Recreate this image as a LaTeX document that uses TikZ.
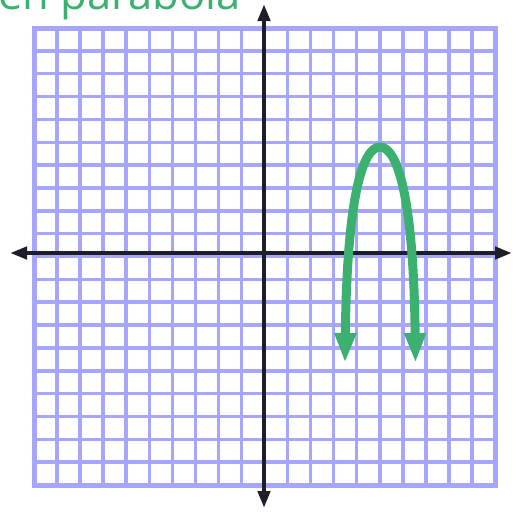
\documentclass[tikz,border=0pt]{standalone}
\usepackage{fontspec}
\newfontfamily\titlefont{Open Sans}
\usepackage{xcolor}
\usepackage{tikz}
\usetikzlibrary{arrows.meta}

\definecolor{gridblue}{RGB}{166,166,255}
\definecolor{axisdark}{RGB}{30,30,40}
\definecolor{curvegreen}{RGB}{60,176,110}

\begin{document}
\begin{tikzpicture}[x=1pt, y=-1pt,
    gridline/.style={gridblue, line width=3.5pt},
    axisline/.style={axisdark, line width=4.5pt, {Triangle[length=17pt,width=12pt]}-{Triangle[length=17pt,width=12pt]}},
    parabola/.style={curvegreen, line width=9pt, {Triangle[length=30pt,width=20pt]}-{Triangle[length=30pt,width=20pt]}}]

    \useasboundingbox (0,0) rectangle (516,512);
    \clip (0,0) rectangle (516,512);

    % Title
    \node[anchor=base east, inner sep=0pt, curvegreen, font=\titlefont\fontsize{43.5}{50}\selectfont] (title) at (241,9) {en parabola};

    % Grid
    \foreach \i in {0,...,20} {
        \draw[gridline] ({34+\i*23.05},28) -- ({34+\i*23.05},485);
        \draw[gridline] (34,{28+\i*22.85}) -- (495,{28+\i*22.85});
    }
    \draw[gridline, line width=5pt] (34,28) rectangle (495,485);

    % Axes
    \draw[axisline] (10,253) -- (512,253);
    \draw[axisline] (264,4) -- (264,508);

    % Parabola
    \draw[parabola] (345,363) .. controls (347,195) and (363,147) .. (380,147)
        .. controls (397,147) and (413.5,195) .. (415.5,363);

\end{tikzpicture}
\end{document}
